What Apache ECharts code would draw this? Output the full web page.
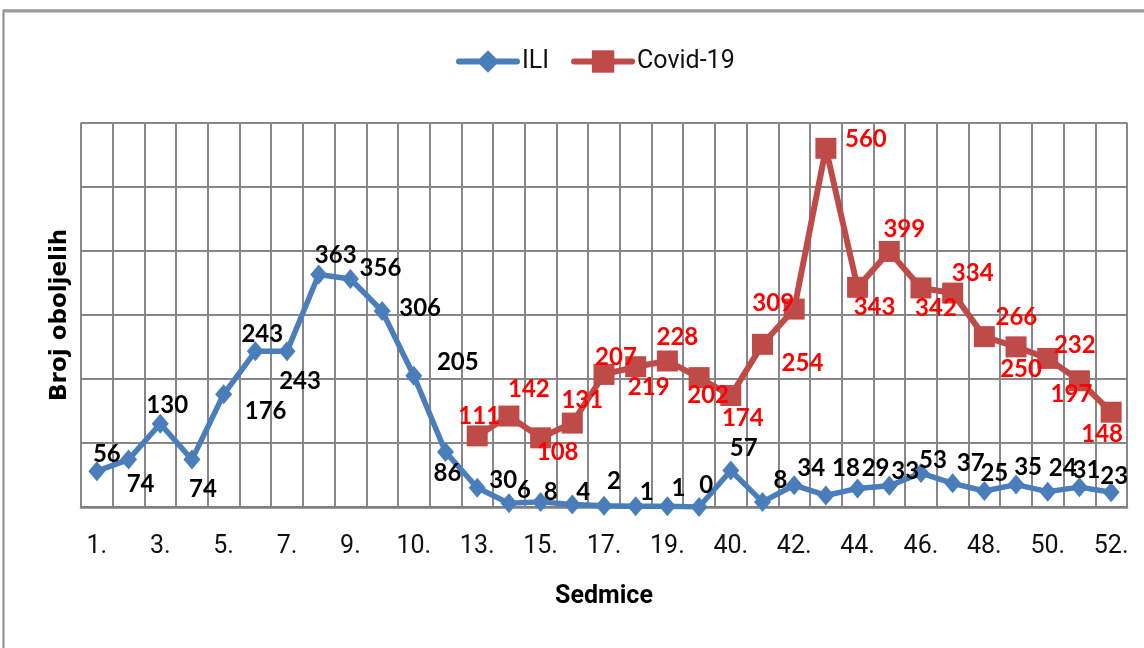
<!DOCTYPE html>
<html>
<head>
<meta charset="utf-8">
<script src="https://cdn.jsdelivr.net/npm/echarts@6/dist/echarts.min.js"></script>
<style>
  html, body { margin: 0; padding: 0; background: #fff; }
  #chart { width: 1144px; height: 648px; }
</style>
</head>
<body>
<div id="chart"></div>
<script>
// Weeks on the x axis (every other one is labelled)
const weeks = ['1.','2.','3.','4.','5.','6.','7.','8.','9.','9a.','10.','12.','13.','14.','15.','16.','17.','18.','19.','39.','40.','41.','42.','43.','44.','45.','46.','47.','48.','49.','50.','51.','52.'];

// Weekly counts
const iliCases = [56, 74, 130, 74, 176, 243, 243, 363, 356, 306, 205, 86, 30, 6, 8, 4, 2, 1, 1, 0, 57, 8, 34, 18, 29, 33, 53, 37, 25, 35, 24, 31, 23];
const covidCases = [null, null, null, null, null, null, null, null, null, null, null, null,
  111, 142, 108, 131, 207, 219, 228, 202, 174, 254, 309, 560, 343, 399, 342, 334, 266, 250, 232, 197, 148];

// Value axis ticks
const yMin = 0, yMax = 600, yStep = 100;

// Where each value label sits relative to its marker (layout only)
const iliLabelShift = [
  [10,-17],[12,25],[7,-18],[11,30],[42,17],[7,-17],[13,30],[17,-19],[30,-11],[38,-3],
  [44,-13],[2,21],[26,-8],[15,-13],[10,-10],[11,-12],[10,-24],[11,-14],[11,-18],[7,-22],
  [13,-22],[18,-22],[17,-17],[20,-27],[18,-20],[16,-15],[12,-13],[18,-20],[10,-18],[12,-17],
  [15,-23],[7,-17],[3,-16]
];
const covidLabelShift = [
  null,null,null,null,null,null,null,null,null,null,null,null,
  [2,-20],[20,-27],[17,14],[10,-23],[12,-17],[13,21],[10,-24],[9,18],[12,23],[40,19],
  [-21,-6],[40,-9],[17,20],[15,-22],[15,20],[20,-20],[32,-19],[5,22],[27,-13],[-8,13],[-9,22]
];

const textFont = "Roboto, 'Open Sans', sans-serif";
const labelFont = "Lato, 'Open Sans', sans-serif";

function withLabels(values, shifts) {
  return values.map((v, i) => v == null ? null : ({ value: v, label: { offset: shifts[i] } }));
}

const chart = echarts.init(document.getElementById('chart'), null, { renderer: 'canvas' });

chart.setOption({
  backgroundColor: '#ffffff',
  animation: false,
  graphic: [{
    type: 'rect',
    silent: true,
    shape: { x: 3.5, y: 10.5, width: 1200, height: 700 },
    style: { fill: 'none', stroke: '#8c8c8c', lineWidth: 2 }
  }, {
    type: 'line',
    silent: true,
    shape: { x1: 3, y1: 11, x2: 1144, y2: 11 },
    style: { stroke: '#9a9a9a', lineWidth: 3 }
  }],
  legend: {
    left: 451,
    top: 44,
    itemWidth: 58,
    itemHeight: 28,
    itemGap: 22,
    lineStyle: { width: 6, cap: 'round' },
    textStyle: { fontFamily: textFont, fontSize: 25, color: '#111' },
    data: ['ILI', 'Covid-19']
  },
  grid: { left: 81, right: 17, top: 122.7, bottom: 141, containLabel: false },
  xAxis: {
    type: 'category',
    data: weeks,
    boundaryGap: true,
    axisLine: { show: true, lineStyle: { color: '#7f7f7f', width: 2.5 } },
    axisTick: { show: false },
    axisLabel: {
      interval: 1,
      margin: 27,
      fontFamily: textFont,
      fontSize: 25,
      color: '#111'
    },
    splitLine: { show: true, interval: 0, lineStyle: { color: '#878787', width: 2 } },
    name: 'Sedmice',
    nameLocation: 'middle',
    nameGap: 77,
    nameTextStyle: { fontFamily: textFont, fontSize: 25, fontWeight: 'bold', color: '#000' }
  },
  yAxis: {
    type: 'value',
    min: yMin,
    max: yMax,
    interval: yStep,
    axisLine: { show: false },
    axisTick: { show: false },
    axisLabel: { show: false },
    splitLine: { show: true, lineStyle: { color: '#878787', width: 2 } },
    name: 'Broj oboljelih',
    nameLocation: 'middle',
    nameGap: 9,
    nameRotate: 90,
    nameTextStyle: { fontFamily: "'DejaVu Sans', sans-serif", fontSize: 23, fontWeight: 'bold', color: '#000' }
  },
  series: [{
    name: 'ILI',
    type: 'line',
    data: withLabels(iliCases, iliLabelShift),
    symbol: 'diamond',
    symbolSize: [17, 20],
    lineStyle: { color: '#4a7ebb', width: 5.5 },
    itemStyle: { color: '#4a7ebb' },
    label: {
      show: true,
      position: 'inside',
      fontFamily: labelFont,
      fontWeight: 'bold',
      fontSize: 24,
      color: '#000'
    },
    z: 3
  }, {
    name: 'Covid-19',
    type: 'line',
    data: withLabels(covidCases, covidLabelShift),
    symbol: 'rect',
    symbolSize: [21, 21],
    lineStyle: { color: '#be4b48', width: 6 },
    itemStyle: { color: '#be4b48' },
    label: {
      show: true,
      position: 'inside',
      fontFamily: labelFont,
      fontWeight: 'bold',
      fontSize: 24,
      color: '#ff0000'
    },
    z: 4
  }]
});
</script>
</body>
</html>
